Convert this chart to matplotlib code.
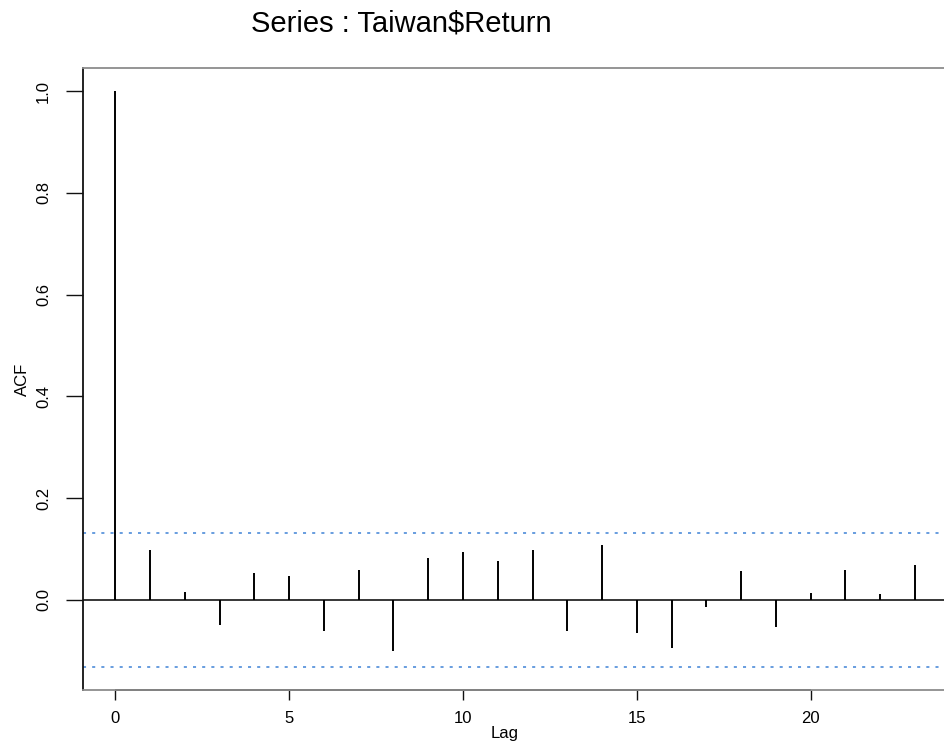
import numpy as np
import matplotlib
matplotlib.use('Agg')
import matplotlib.pyplot as plt

plt.rcParams['font.family'] = ['Liberation Sans', 'DejaVu Sans']

# ACF values, lags 0..23
lags = list(range(24))
acf = [1.0, 0.097, 0.015, -0.049, 0.053, 0.047, -0.062, 0.058, -0.101,
       0.082, 0.094, 0.076, 0.098, -0.062, 0.107, -0.066, -0.094, -0.014,
       0.057, -0.054, 0.013, 0.058, 0.011, 0.069]
clim = 0.132  # 1.96/sqrt(n)
yticks = [0.0, 0.2, 0.4, 0.6, 0.8, 1.0]
xticks = [0, 5, 10, 15, 20]

fig = plt.figure(figsize=(9.44, 7.54), dpi=100)
ax = fig.add_axes([0.0882, 0.0849, 0.915, 0.8249])

# spikes
ax.vlines(lags, 0, acf, color='black', lw=1.4)
ax.axhline(0, color='black', lw=1.1)
ax.axhline(clim, color='#3f82d6', lw=1.1, linestyle=(0, (2, 4.0)))
ax.axhline(-clim, color='#3f82d6', lw=1.1, linestyle=(0, (2, 4.0)))

# R style limits: range padded by 4%
lo = min(min(acf), -clim)
hi = max(max(acf), clim)
pad = (hi - lo) * 0.04
ax.set_ylim(lo - pad, hi + pad)
xpad = (lags[-1] - lags[0]) * 0.04
ax.set_xlim(lags[0] - xpad, lags[-1] + xpad)

ax.set_xticks(xticks)
ax.set_yticks(yticks)
ax.set_yticklabels([f'{v:.1f}' for v in yticks])
ax.tick_params(axis='x', length=7.2, width=1.0, pad=8, labelsize=12, color='#111111')
ax.tick_params(axis='y', length=12.2, width=1.0, pad=11, labelsize=12,
               labelrotation=90, color='#111111')
for lab in ax.get_yticklabels():
    lab.set_va('center')

# grey box, black axis lines (like R)
for sp in ax.spines.values():
    sp.set_color('#8c8c8c')
    sp.set_linewidth(1.3)
ax.spines['left'].set_color('#111111')
ax.plot([xticks[0], xticks[-1]], [0, 0], transform=ax.get_xaxis_transform(),
        color='#111111', lw=1.3, clip_on=False, solid_capstyle='butt')

ax.set_xlabel('Lag', fontsize=12)
ax.xaxis.set_label_coords(0.488, -0.058)
ax.set_ylabel('ACF', fontsize=12, va='center')
ax.yaxis.set_label_coords(-0.070, 0.5)

fig.text(0.4248, 0.958, 'Series : Taiwan$Return', fontsize=21,
         ha='center', va='baseline')

fig.savefig('out.png', dpi=100)
